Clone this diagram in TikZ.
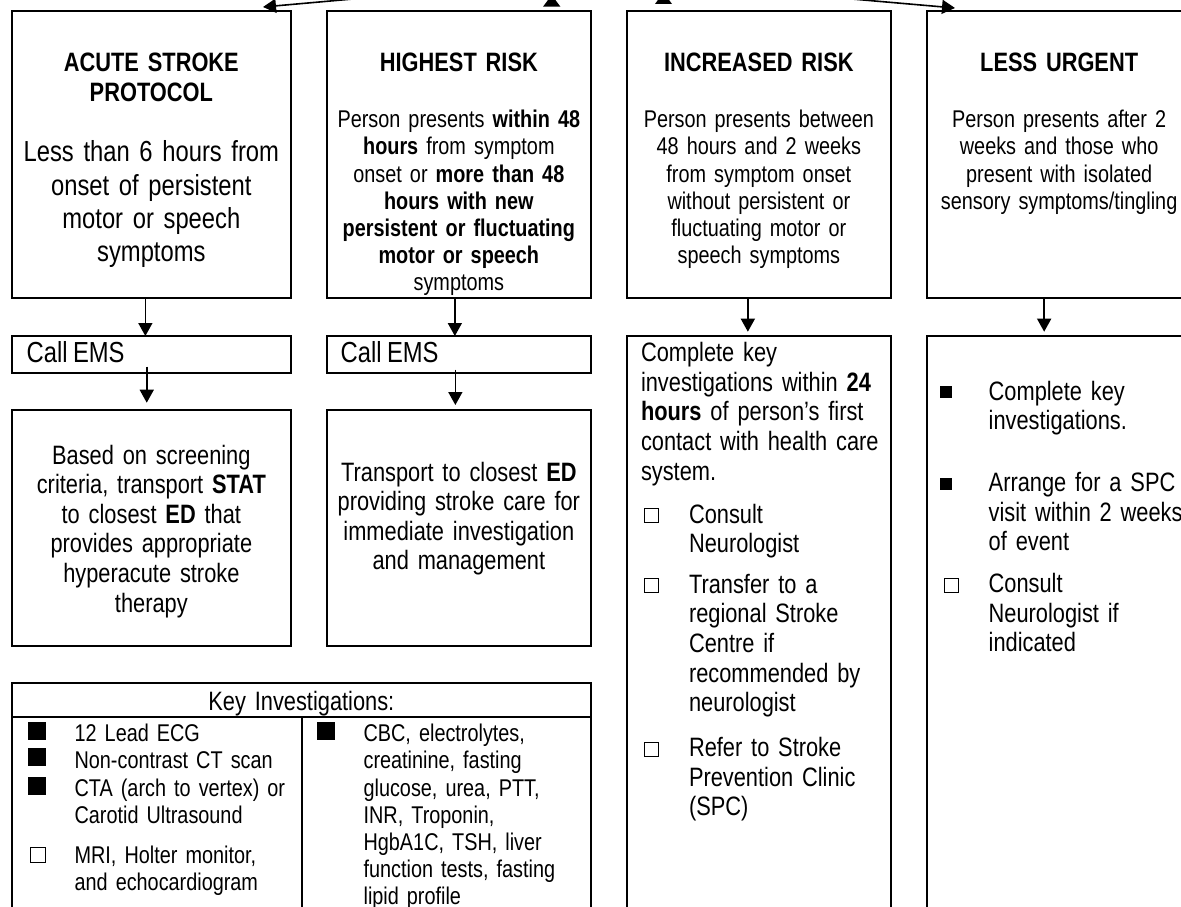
\documentclass[tikz,border=0pt]{standalone}
\usepackage{fontspec}
\setmainfont{Liberation Sans}[FakeStretch=0.82,WordSpace=0.82]
\usetikzlibrary{arrows.meta}

\newcommand\fL{\fontsize{29}{33.3}\selectfont}
\newcommand\fM{\fontsize{26.6}{29.6}\selectfont}
\newcommand\fS{\fontsize{24.2}{27.2}\selectfont}

\begin{document}
\begin{tikzpicture}[x=1pt,y=-1pt,
  box/.style={draw, line width=2pt, inner sep=0pt, outer sep=0pt, anchor=north west},
  arr/.style={line width=1.6pt, -{Triangle[length=13pt,width=14pt]}},
  ctext/.style={inner sep=0pt, outer sep=0pt, anchor=base, align=center},
  ltext/.style={inner sep=0pt, outer sep=0pt, anchor=base west, align=left},
  bsq/.style={fill=black, inner sep=0pt, outer sep=0pt, minimum size=#1},
  wsq/.style={draw, line width=1pt, fill=white, inner sep=0pt, outer sep=0pt, minimum size=#1},
]
\useasboundingbox (0,0) rectangle (1181,907);
\clip (0,0) rectangle (1181,907);

% top row boxes
\node[box, minimum width=279.3pt, minimum height=287pt] (b1) at (11.7,11) {};
\node[box, minimum width=264.3pt, minimum height=287pt] (b2) at (326.7,11) {};
\node[box, minimum width=264.3pt, minimum height=287pt] (b3) at (626.7,11) {};
\node[box, minimum width=264.3pt, minimum height=287pt] (b4) at (927,11) {};

% call EMS boxes
\node[box, minimum width=279.3pt, minimum height=36.7pt] (e1) at (11.7,336) {};
\node[box, minimum width=264.3pt, minimum height=36.7pt] (e2) at (326.7,336) {};

% lower boxes
\node[box, minimum width=279.3pt, minimum height=236pt] (l1) at (11.7,410) {};
\node[box, minimum width=264.3pt, minimum height=236pt] (l2) at (326.7,410) {};
\node[box, minimum width=264.3pt, minimum height=600pt] (l3) at (626.7,336) {};
\node[box, minimum width=264.3pt, minimum height=600pt] (l4) at (927,336) {};

% key investigations
\node[box, minimum width=579.3pt, minimum height=34.3pt] (kh) at (11.7,682.7) {};
\node[box, minimum width=290pt, minimum height=250pt] (kl) at (11.7,717) {};
\node[box, minimum width=289.3pt, minimum height=250pt] (kr) at (301.7,717) {};

% incoming arrows from above
\coordinate (src) at (600,-23);
\coordinate (t1) at (263,7);
\coordinate (t4) at (955,8);
\draw[arr] (src) -- (t1);
\draw[arr] (src) -- (t4);
\fill (543,6.7) -- (560.4,6.7) -- (551.7,-5) -- cycle;
\fill (655,4) -- (672,4) -- (663.5,-7.7) -- cycle;

% vertical arrows
\draw[arr] ([xshift=-6pt]b1.south) -- ([xshift=-6pt]e1.north);
\draw[arr] ([xshift=-4.6pt,yshift=6pt]e1.south) -- ([xshift=-4.6pt,yshift=7.3pt]l1.north);
\draw[arr] ([xshift=-4pt]b2.south) -- ([xshift=-4pt]e2.north);
\draw[arr] ([xshift=-3.5pt,yshift=3pt]e2.south) -- ([xshift=-3.5pt,yshift=5pt]l2.north);
\draw[arr] ([xshift=-11pt]b3.south) -- ([xshift=-11pt,yshift=4.3pt]l3.north);
\draw[arr] ([xshift=-15pt]b4.south) -- ([xshift=-15pt,yshift=4.3pt]l4.north);

% top row texts
\node[ctext, text width=275pt, font=\fM\bfseries] (h1) at (151.35,72) {ACUTE STROKE\\PROTOCOL};
\node[ctext, text width=275pt, font=\fL] (x1) at (151.35,161.7) {Less than 6 hours from\\onset of persistent\\motor or speech\\symptoms};

\node[ctext, text width=262pt, font=\fM\bfseries] (h2) at (458.85,71.7) {HIGHEST RISK};
\node[ctext, text width=262pt, font=\fS] (x2) at (458.85,127.7) {Person presents \textbf{within 48}\\\textbf{hours} from symptom\\onset or \textbf{more than 48}\\\textbf{hours with new}\\\textbf{persistent or fluctuating}\\\textbf{motor or speech}\\symptoms};

\node[ctext, text width=262pt, font=\fM\bfseries] (h3) at (758.85,71.7) {INCREASED RISK};
\node[ctext, text width=262pt, font=\fS] (x3) at (758.85,127.7) {Person presents between\\48 hours and 2 weeks\\from symptom onset\\without persistent or\\fluctuating motor or\\speech symptoms};

\node[ctext, text width=262pt, font=\fM\bfseries] (h4) at (1059.15,71.7) {LESS URGENT};
\node[ctext, text width=262pt, font=\fS] (x4) at (1059.15,127.7) {Person presents after 2\\weeks and those who\\present with isolated\\sensory symptoms/tingling};

% Call EMS
\node[ltext, font=\fL] (c1) at (26.7,362.7) {Call EMS};
\node[ltext, font=\fL] (c2) at (340.7,362.7) {Call EMS};

% lower texts
\node[ctext, text width=275pt, font=\fM] (y1) at (151.35,464) {Based on screening\\criteria, transport \textbf{STAT}\\to closest \textbf{ED} that\\provides appropriate\\hyperacute stroke\\therapy};
\node[ctext, text width=262pt, font=\fM] (y2) at (458.85,481) {Transport to closest \textbf{ED}\\providing stroke care for\\immediate investigation\\and management};

\node[ltext, text width=260pt, font=\fM] (y3) at (641,361.7) {Complete key\\investigations within \textbf{24}\\\textbf{hours} of person’s first\\contact with health care\\system.};
\node[wsq=14pt] (q31) at (651.5,515.8) {};
\node[ltext, text width=230pt, font=\fM] (y31) at (689,523.3) {Consult\\Neurologist};
\node[wsq=14pt] (q32) at (651.5,585.8) {};
\node[ltext, text width=230pt, font=\fM] (y32) at (689,593.3) {Transfer to a\\regional Stroke\\Centre if\\recommended by\\neurologist};
\node[wsq=14pt] (q33) at (651.5,749.2) {};
\node[ltext, text width=230pt, font=\fM] (y33) at (689,756.7) {Refer to Stroke\\Prevention Clinic\\(SPC)};

\node[bsq=12pt] (q41) at (946.4,392) {};
\node[ltext, text width=240pt, font=\fM] (y41) at (988.7,400) {Complete key\\investigations.};
\node[bsq=12pt] (q42) at (946.4,483.7) {};
\node[ltext, text width=240pt, font=\fM] (y42) at (988.7,491.7) {Arrange for a SPC\\visit within 2 weeks\\of event};
\node[wsq=14pt] (q43) at (951.5,585.5) {};
\node[ltext, text width=240pt, font=\fM] (y43) at (988.7,592.7) {Consult\\Neurologist if\\indicated};

% key investigations texts
\node[ctext, text width=560pt, font=\fM] (kt) at (301.35,710) {Key Investigations:};
\node[bsq=18pt] (k1) at (36.8,730.7) {};
\node[bsq=18pt] (k2) at (36.8,757.3) {};
\node[bsq=18pt] (k3) at (36.8,785.7) {};
\node[ltext, text width=225pt, font=\fS] (kl1) at (74.6,741.7) {12 Lead ECG\\Non-contrast CT scan\\CTA (arch to vertex) or\\Carotid Ultrasound};
\node[wsq=15pt] (k4) at (38,855) {};
\node[ltext, text width=225pt, font=\fS] (kl2) at (74.6,863.3) {MRI, Holter monitor,\\and echocardiogram};
\node[bsq=18pt] (k5) at (326.3,730.7) {};
\node[ltext, text width=225pt, font=\fS] (kr1) at (363.6,741.7) {CBC, electrolytes,\\creatinine, fasting\\glucose, urea, PTT,\\INR, Troponin,\\HgbA1C, TSH, liver\\function tests, fasting\\lipid profile};
\end{tikzpicture}
\end{document}
